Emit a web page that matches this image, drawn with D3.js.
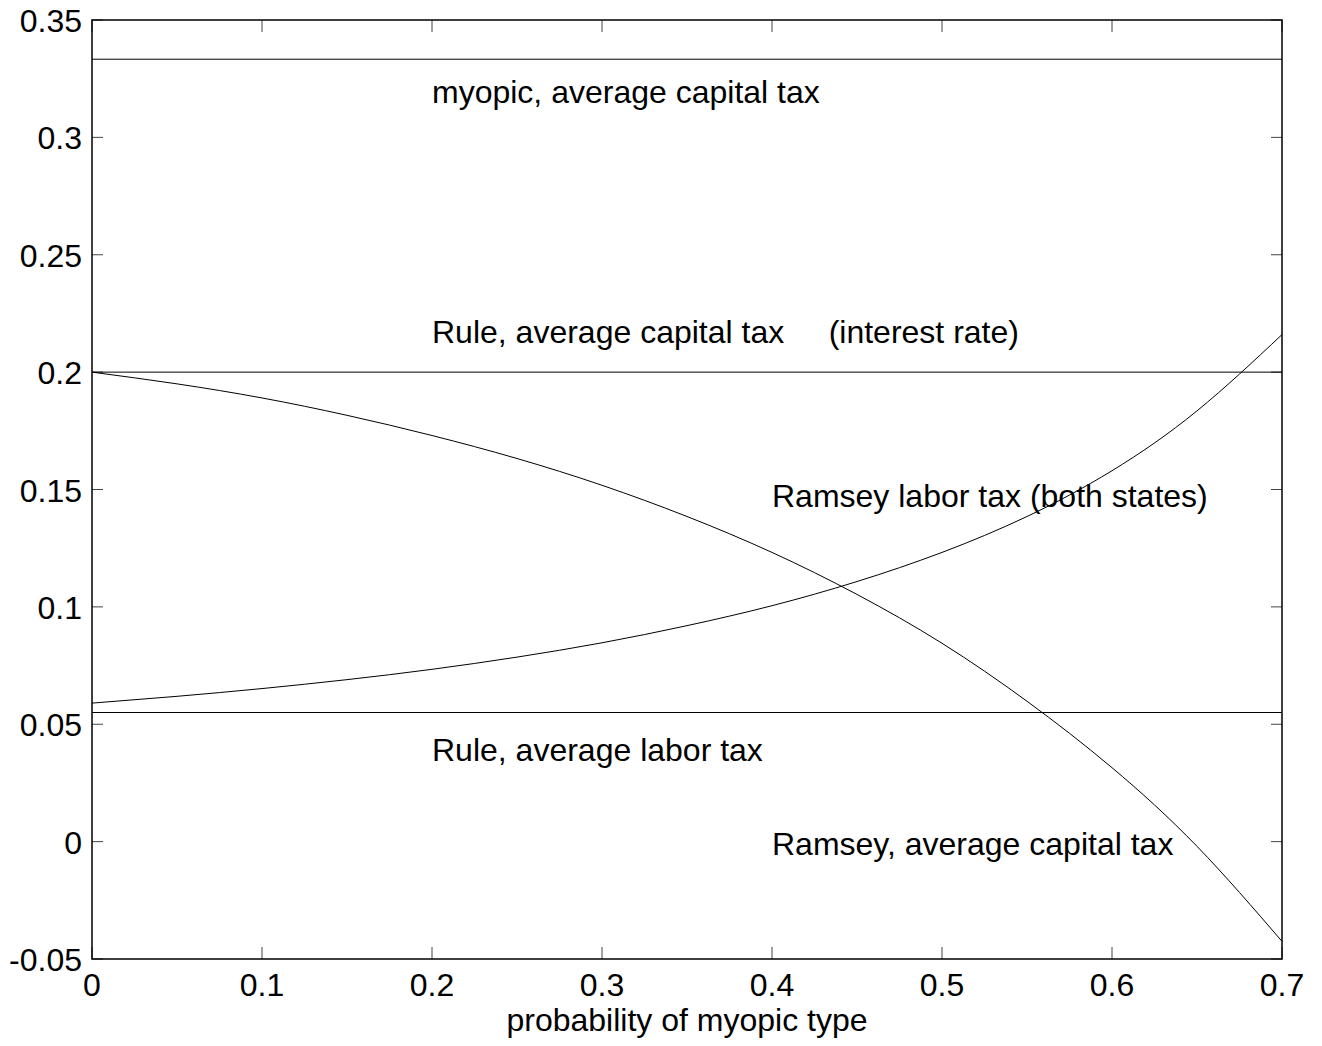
<!DOCTYPE html>
<html><head><meta charset="utf-8">
<script src="https://cdn.jsdelivr.net/npm/d3@7"></script>
<style>
body{margin:0;background:#fff;}
svg text{font-family:"Liberation Sans",Arial,sans-serif;font-size:32px;fill:#000;}
</style></head>
<body><svg id="c" width="1322" height="1046"></svg>
<script>
const xTicks = [0,0.1,0.2,0.3,0.4,0.5,0.6,0.7];
const xTickLabels = ["0","0.1","0.2","0.3","0.4","0.5","0.6","0.7"];
const yTicks = [-0.05,0,0.05,0.1,0.15,0.2,0.25,0.3,0.35];
const yTickLabels = ["-0.05","0","0.05","0.1","0.15","0.2","0.25","0.3","0.35"];

const prob = [0,0.05,0.1,0.15,0.2,0.25,0.3,0.35,0.4,0.45,0.5,0.55,0.6,0.65,0.7];
const ramseyCapital = [0.2,0.195,0.1890,0.1816,0.1730,0.1632,0.1518,0.1385,0.1232,0.1053,0.0845,0.0598,0.0315,-0.0020,-0.0425];
const ramseyLabor = [0.059,0.0619,0.0652,0.0690,0.0734,0.0786,0.0847,0.0920,0.1005,0.1108,0.1232,0.1385,0.1580,0.1835,0.2160];
const myopicCapital = 0.3333;
const ruleCapital = 0.2;
const ruleLabor = 0.055;

const labelText = ["myopic, average capital tax","Rule, average capital tax     (interest rate)","Ramsey labor tax (both states)","Rule, average labor tax","Ramsey, average capital tax"];
const labelX = [0.2,0.2,0.4,0.2,0.4];
const labelY = [0.32,0.218,0.148,0.04,0.0];
const xLabel = "probability of myopic type";

const L=92,T=20,R=1282,B=959;
const svg=d3.select("#c");
const x=d3.scaleLinear().domain([0,0.7]).range([L,R]);
const y=d3.scaleLinear().domain([-0.05,0.35]).range([B,T]);

// ticks
const tk=svg.append("g").attr("stroke","#444").attr("stroke-width",1);
xTicks.forEach(v=>{
  tk.append("line").attr("x1",x(v)).attr("x2",x(v)).attr("y1",B).attr("y2",B-12);
  tk.append("line").attr("x1",x(v)).attr("x2",x(v)).attr("y1",T).attr("y2",T+12);
});
yTicks.forEach(v=>{
  tk.append("line").attr("x1",L).attr("x2",L+11).attr("y1",y(v)).attr("y2",y(v));
  tk.append("line").attr("x1",R).attr("x2",R-11).attr("y1",y(v)).attr("y2",y(v));
});
xTicks.forEach((v,i)=>svg.append("text").attr("x",x(v)).attr("y",996).attr("text-anchor","middle").text(xTickLabels[i]));
yTicks.forEach((v,i)=>svg.append("text").attr("x",82).attr("y",y(v)+12).attr("text-anchor","end").text(yTickLabels[i]));

// horizontal lines
[myopicCapital,ruleCapital,ruleLabor].forEach(v=>{
  svg.append("line").attr("x1",x(0)).attr("x2",x(0.7)).attr("y1",y(v)).attr("y2",y(v)).attr("stroke","#000").attr("stroke-width",1);
});
const line=d3.line().x((d,i)=>x(prob[i])).y(d=>y(d)).curve(d3.curveNatural);
[ramseyCapital,ramseyLabor].forEach(s=>{
  svg.append("path").attr("d",line(s)).attr("fill","none").attr("stroke","#000").attr("stroke-width",1);
});

labelText.forEach((t,i)=>{
  svg.append("text").attr("x",x(labelX[i])).attr("y",y(labelY[i])+13).attr("xml:space","preserve").style("white-space","pre").text(t);
});

svg.append("text").attr("x",(L+R)/2).attr("y",1031).attr("text-anchor","middle").text(xLabel);

// frame
svg.append("rect").attr("x",L).attr("y",T).attr("width",R-L).attr("height",B-T).attr("fill","none").attr("stroke","#000").attr("stroke-width",1.5);
</script></body></html>
